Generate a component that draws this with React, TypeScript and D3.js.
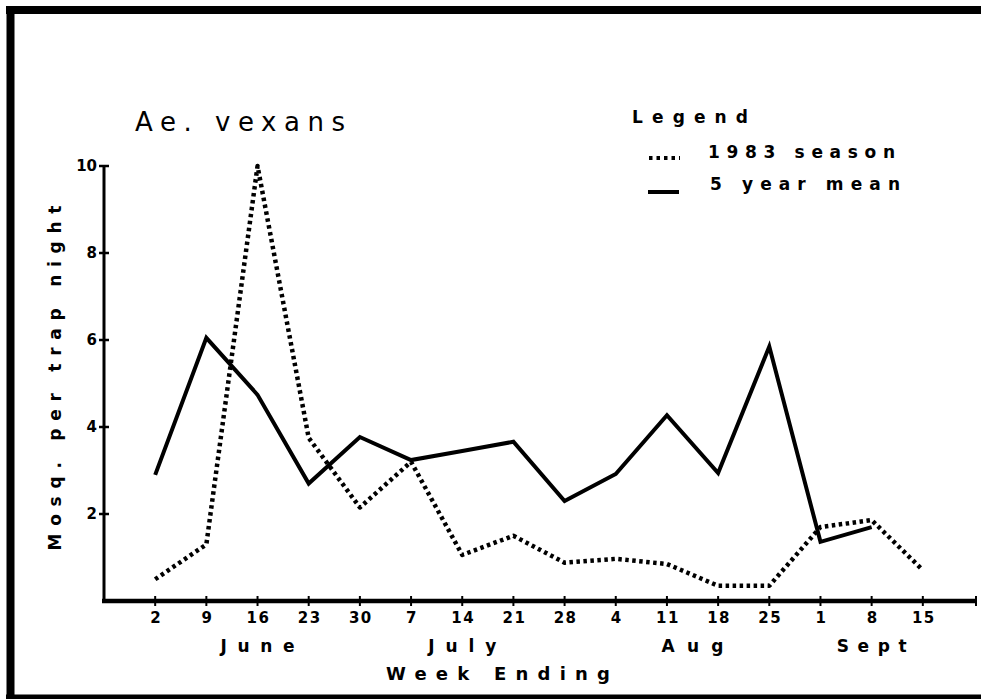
import React from "react";
import * as d3 from "d3";

const weekLabels = ["2", "9", "16", "23", "30", "7", "14", "21", "28", "4", "11", "18", "25", "1", "8", "15"];
const season1983 = [0.5, 1.3, 10.0, 3.75, 2.15, 3.2, 1.06, 1.5, 0.88, 0.97, 0.85, 0.35, 0.35, 1.7, 1.86, 0.71];
const fiveYearMean = [2.9, 6.05, 4.74, 2.7, 3.77, 3.24, 3.45, 3.66, 2.3, 2.92, 4.27, 2.94, 5.85, 1.36, 1.7];
const yTicks = [2, 4, 6, 8, 10];
const monthLabels = ["June", "July", "Aug", "Sept"];
const monthPositions = [2, 6, 10.5, 14];
const monthWidths = [74, 68, 62, 70];

const W = 981;
const H = 699;
const FONT = "'DejaVu Sans', Verdana, sans-serif";

export default function App() {
  const x = d3.scaleLinear().domain([-1, 16]).range([104, 974]);
  const y = d3.scaleLinear().domain([0, 10]).range([601, 166]);

  const line = d3
    .line<number>()
    .x((_, i) => x(i))
    .y((d) => y(d));

  return (
    <svg
      width={W}
      height={H}
      viewBox={`0 0 ${W} ${H}`}
      style={{ position: "absolute", left: 0, top: 0, background: "#fff", overflow: "hidden" }}
    >
      <rect x={0} y={0} width={W} height={H} fill="#fff" />
      {/* frame: top, left, bottom */}
      <line x1={6} x2={W} y1={10} y2={10} stroke="#000" strokeWidth={8} />
      <line x1={10.5} x2={10.5} y1={6} y2={H} stroke="#000" strokeWidth={8} />
      <line x1={6} x2={W} y1={697} y2={697} stroke="#000" strokeWidth={5} />

      {/* title */}
      <text x={135} y={131} fontFamily={FONT} fontSize={26} textLength={210} lengthAdjust="spacing" fill="#000">
        Ae. vexans
      </text>

      {/* legend */}
      <text x={632} y={123} fontFamily={FONT} fontSize={17} fontWeight="bold" textLength={116} lengthAdjust="spacing">
        Legend
      </text>
      <line x1={649} x2={680} y1={158} y2={158} stroke="#000" strokeWidth={4} strokeDasharray="3.5 4" />
      <text x={708} y={158} fontFamily={FONT} fontSize={17} fontWeight="bold" textLength={187} lengthAdjust="spacing">
        1983 season
      </text>
      <line x1={648} x2={679} y1={192} y2={192} stroke="#000" strokeWidth={4} />
      <text x={710} y={190} fontFamily={FONT} fontSize={17} fontWeight="bold" textLength={190} lengthAdjust="spacing">
        5 year mean
      </text>

      {/* y axis */}
      <line x1={104} x2={104} y1={y(10)} y2={601} stroke="#000" strokeWidth={3} />
      {yTicks.map((t) => (
        <g key={t}>
          <line x1={99} x2={109} y1={y(t)} y2={y(t)} stroke="#000" strokeWidth={2.5} />
          <text
            x={97}
            y={y(t) + 5}
            textAnchor="end"
            fontFamily={FONT}
            fontSize={15}
            fontWeight="bold"
          >
            {t}
          </text>
        </g>
      ))}
      <text
        transform={`translate(61, ${378}) rotate(-90)`}
        textAnchor="middle"
        fontFamily={FONT}
        fontSize={17}
        fontWeight="bold"
        textLength={345}
        lengthAdjust="spacing"
      >
        Mosq. per trap night
      </text>

      {/* x axis */}
      <line x1={102} x2={976} y1={601} y2={601} stroke="#000" strokeWidth={4.5} />
      <line x1={976} x2={976} y1={596} y2={606} stroke="#000" strokeWidth={2} />
      {weekLabels.map((w, i) => (
        <g key={i}>
          <line x1={x(i)} x2={x(i)} y1={596} y2={606} stroke="#000" strokeWidth={2} />
          <text
            x={x(i) + 1}
            y={623}
            textAnchor="middle"
            fontFamily={FONT}
            fontSize={15}
            fontWeight="bold"
            letterSpacing={1.5}
          >
            {w}
          </text>
        </g>
      ))}
      {monthLabels.map((m, i) => (
        <text
          key={m}
          x={x(monthPositions[i]) - monthWidths[i] / 2}
          y={652}
          fontFamily={FONT}
          fontSize={17}
          fontWeight="bold"
          textLength={monthWidths[i]}
          lengthAdjust="spacing"
        >
          {m}
        </text>
      ))}
      <text x={386} y={680} fontFamily={FONT} fontSize={18} fontWeight="bold" textLength={224} lengthAdjust="spacing">
        Week Ending
      </text>

      {/* series */}
      <path
        d={line(season1983) ?? ""}
        fill="none"
        stroke="#000"
        strokeWidth={4.5}
        strokeDasharray="3.5 3.5"
        strokeLinejoin="round"
      />
      <path d={line(fiveYearMean) ?? ""} fill="none" stroke="#000" strokeWidth={4} strokeLinejoin="miter" />
    </svg>
  );
}
